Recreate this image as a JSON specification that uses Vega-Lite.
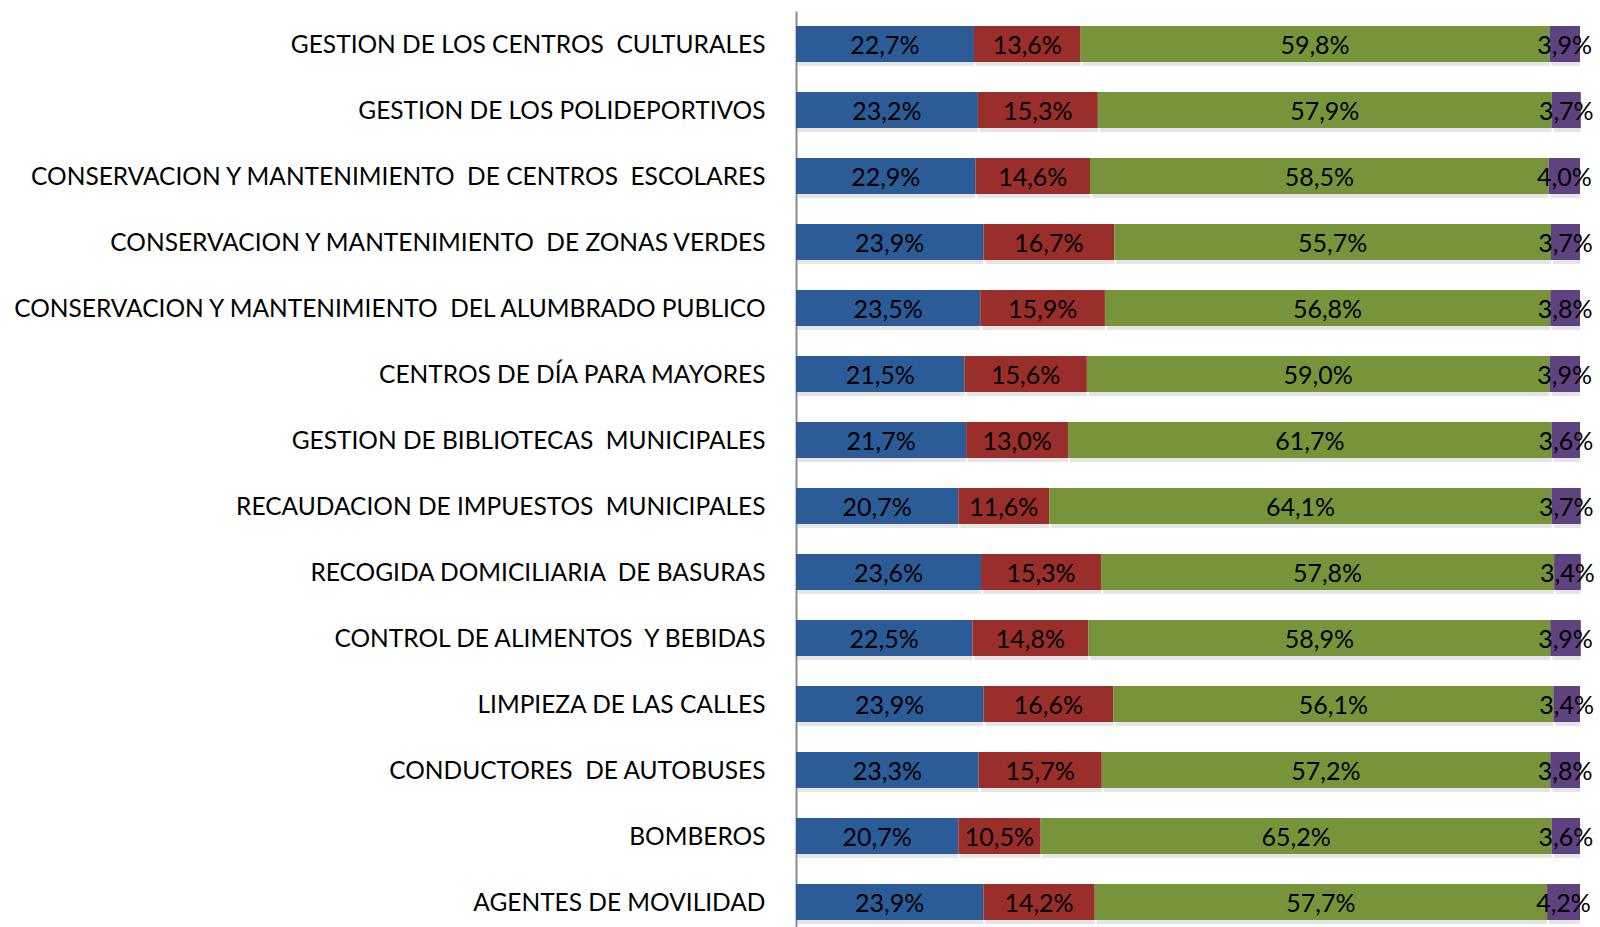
{
  "$schema": "https://vega.github.io/schema/vega-lite/v6.json",
  "width": 784,
  "height": 916,
  "padding": {"left": 796, "top": 11, "right": 20, "bottom": 0},
  "autosize": {"type": "none"},
  "background": "white",
  "config": {"view": {"stroke": null}, "font": "Lato"},
  "data": {"values": [
    {"cat": "GESTION DE LOS CENTROS  CULTURALES", "i": 1, "s": "A", "o": 1, "v": 22.7, "lab": "22,7%"},
    {"cat": "GESTION DE LOS CENTROS  CULTURALES", "i": 1, "s": "B", "o": 2, "v": 13.6, "lab": "13,6%"},
    {"cat": "GESTION DE LOS CENTROS  CULTURALES", "i": 1, "s": "C", "o": 3, "v": 59.8, "lab": "59,8%"},
    {"cat": "GESTION DE LOS CENTROS  CULTURALES", "i": 1, "s": "D", "o": 4, "v": 3.9, "lab": "3,9%"},
    {"cat": "GESTION DE LOS POLIDEPORTIVOS", "i": 2, "s": "A", "o": 1, "v": 23.2, "lab": "23,2%"},
    {"cat": "GESTION DE LOS POLIDEPORTIVOS", "i": 2, "s": "B", "o": 2, "v": 15.3, "lab": "15,3%"},
    {"cat": "GESTION DE LOS POLIDEPORTIVOS", "i": 2, "s": "C", "o": 3, "v": 57.9, "lab": "57,9%"},
    {"cat": "GESTION DE LOS POLIDEPORTIVOS", "i": 2, "s": "D", "o": 4, "v": 3.7, "lab": "3,7%"},
    {"cat": "CONSERVACION Y MANTENIMIENTO  DE CENTROS  ESCOLARES", "i": 3, "s": "A", "o": 1, "v": 22.9, "lab": "22,9%"},
    {"cat": "CONSERVACION Y MANTENIMIENTO  DE CENTROS  ESCOLARES", "i": 3, "s": "B", "o": 2, "v": 14.6, "lab": "14,6%"},
    {"cat": "CONSERVACION Y MANTENIMIENTO  DE CENTROS  ESCOLARES", "i": 3, "s": "C", "o": 3, "v": 58.5, "lab": "58,5%"},
    {"cat": "CONSERVACION Y MANTENIMIENTO  DE CENTROS  ESCOLARES", "i": 3, "s": "D", "o": 4, "v": 4.0, "lab": "4,0%"},
    {"cat": "CONSERVACION Y MANTENIMIENTO  DE ZONAS VERDES", "i": 4, "s": "A", "o": 1, "v": 23.9, "lab": "23,9%"},
    {"cat": "CONSERVACION Y MANTENIMIENTO  DE ZONAS VERDES", "i": 4, "s": "B", "o": 2, "v": 16.7, "lab": "16,7%"},
    {"cat": "CONSERVACION Y MANTENIMIENTO  DE ZONAS VERDES", "i": 4, "s": "C", "o": 3, "v": 55.7, "lab": "55,7%"},
    {"cat": "CONSERVACION Y MANTENIMIENTO  DE ZONAS VERDES", "i": 4, "s": "D", "o": 4, "v": 3.7, "lab": "3,7%"},
    {"cat": "CONSERVACION Y MANTENIMIENTO  DEL ALUMBRADO PUBLICO", "i": 5, "s": "A", "o": 1, "v": 23.5, "lab": "23,5%"},
    {"cat": "CONSERVACION Y MANTENIMIENTO  DEL ALUMBRADO PUBLICO", "i": 5, "s": "B", "o": 2, "v": 15.9, "lab": "15,9%"},
    {"cat": "CONSERVACION Y MANTENIMIENTO  DEL ALUMBRADO PUBLICO", "i": 5, "s": "C", "o": 3, "v": 56.8, "lab": "56,8%"},
    {"cat": "CONSERVACION Y MANTENIMIENTO  DEL ALUMBRADO PUBLICO", "i": 5, "s": "D", "o": 4, "v": 3.8, "lab": "3,8%"},
    {"cat": "CENTROS DE DÍA PARA MAYORES", "i": 6, "s": "A", "o": 1, "v": 21.5, "lab": "21,5%"},
    {"cat": "CENTROS DE DÍA PARA MAYORES", "i": 6, "s": "B", "o": 2, "v": 15.6, "lab": "15,6%"},
    {"cat": "CENTROS DE DÍA PARA MAYORES", "i": 6, "s": "C", "o": 3, "v": 59.0, "lab": "59,0%"},
    {"cat": "CENTROS DE DÍA PARA MAYORES", "i": 6, "s": "D", "o": 4, "v": 3.9, "lab": "3,9%"},
    {"cat": "GESTION DE BIBLIOTECAS  MUNICIPALES", "i": 7, "s": "A", "o": 1, "v": 21.7, "lab": "21,7%"},
    {"cat": "GESTION DE BIBLIOTECAS  MUNICIPALES", "i": 7, "s": "B", "o": 2, "v": 13.0, "lab": "13,0%"},
    {"cat": "GESTION DE BIBLIOTECAS  MUNICIPALES", "i": 7, "s": "C", "o": 3, "v": 61.7, "lab": "61,7%"},
    {"cat": "GESTION DE BIBLIOTECAS  MUNICIPALES", "i": 7, "s": "D", "o": 4, "v": 3.6, "lab": "3,6%"},
    {"cat": "RECAUDACION DE IMPUESTOS  MUNICIPALES", "i": 8, "s": "A", "o": 1, "v": 20.7, "lab": "20,7%"},
    {"cat": "RECAUDACION DE IMPUESTOS  MUNICIPALES", "i": 8, "s": "B", "o": 2, "v": 11.6, "lab": "11,6%"},
    {"cat": "RECAUDACION DE IMPUESTOS  MUNICIPALES", "i": 8, "s": "C", "o": 3, "v": 64.1, "lab": "64,1%"},
    {"cat": "RECAUDACION DE IMPUESTOS  MUNICIPALES", "i": 8, "s": "D", "o": 4, "v": 3.7, "lab": "3,7%"},
    {"cat": "RECOGIDA DOMICILIARIA  DE BASURAS", "i": 9, "s": "A", "o": 1, "v": 23.6, "lab": "23,6%"},
    {"cat": "RECOGIDA DOMICILIARIA  DE BASURAS", "i": 9, "s": "B", "o": 2, "v": 15.3, "lab": "15,3%"},
    {"cat": "RECOGIDA DOMICILIARIA  DE BASURAS", "i": 9, "s": "C", "o": 3, "v": 57.8, "lab": "57,8%"},
    {"cat": "RECOGIDA DOMICILIARIA  DE BASURAS", "i": 9, "s": "D", "o": 4, "v": 3.4, "lab": "3,4%"},
    {"cat": "CONTROL DE ALIMENTOS  Y BEBIDAS", "i": 10, "s": "A", "o": 1, "v": 22.5, "lab": "22,5%"},
    {"cat": "CONTROL DE ALIMENTOS  Y BEBIDAS", "i": 10, "s": "B", "o": 2, "v": 14.8, "lab": "14,8%"},
    {"cat": "CONTROL DE ALIMENTOS  Y BEBIDAS", "i": 10, "s": "C", "o": 3, "v": 58.9, "lab": "58,9%"},
    {"cat": "CONTROL DE ALIMENTOS  Y BEBIDAS", "i": 10, "s": "D", "o": 4, "v": 3.9, "lab": "3,9%"},
    {"cat": "LIMPIEZA DE LAS CALLES", "i": 11, "s": "A", "o": 1, "v": 23.9, "lab": "23,9%"},
    {"cat": "LIMPIEZA DE LAS CALLES", "i": 11, "s": "B", "o": 2, "v": 16.6, "lab": "16,6%"},
    {"cat": "LIMPIEZA DE LAS CALLES", "i": 11, "s": "C", "o": 3, "v": 56.1, "lab": "56,1%"},
    {"cat": "LIMPIEZA DE LAS CALLES", "i": 11, "s": "D", "o": 4, "v": 3.4, "lab": "3,4%"},
    {"cat": "CONDUCTORES  DE AUTOBUSES", "i": 12, "s": "A", "o": 1, "v": 23.3, "lab": "23,3%"},
    {"cat": "CONDUCTORES  DE AUTOBUSES", "i": 12, "s": "B", "o": 2, "v": 15.7, "lab": "15,7%"},
    {"cat": "CONDUCTORES  DE AUTOBUSES", "i": 12, "s": "C", "o": 3, "v": 57.2, "lab": "57,2%"},
    {"cat": "CONDUCTORES  DE AUTOBUSES", "i": 12, "s": "D", "o": 4, "v": 3.8, "lab": "3,8%"},
    {"cat": "BOMBEROS", "i": 13, "s": "A", "o": 1, "v": 20.7, "lab": "20,7%"},
    {"cat": "BOMBEROS", "i": 13, "s": "B", "o": 2, "v": 10.5, "lab": "10,5%"},
    {"cat": "BOMBEROS", "i": 13, "s": "C", "o": 3, "v": 65.2, "lab": "65,2%"},
    {"cat": "BOMBEROS", "i": 13, "s": "D", "o": 4, "v": 3.6, "lab": "3,6%"},
    {"cat": "AGENTES DE MOVILIDAD", "i": 14, "s": "A", "o": 1, "v": 23.9, "lab": "23,9%"},
    {"cat": "AGENTES DE MOVILIDAD", "i": 14, "s": "B", "o": 2, "v": 14.2, "lab": "14,2%"},
    {"cat": "AGENTES DE MOVILIDAD", "i": 14, "s": "C", "o": 3, "v": 57.7, "lab": "57,7%"},
    {"cat": "AGENTES DE MOVILIDAD", "i": 14, "s": "D", "o": 4, "v": 4.2, "lab": "4,2%"}
  ]},
  "transform": [
    {"stack": "v", "groupby": ["cat"], "sort": [{"field": "o", "order": "ascending"}], "as": ["v0", "v1"]},
    {"calculate": "(datum.v0 + datum.v1) / 2", "as": "mid"}
  ],
  "encoding": {
    "y": {
      "field": "cat", "type": "nominal",
      "sort": {"field": "i", "op": "min", "order": "ascending"},
      "scale": {"paddingInner": 0.4545, "paddingOuter": 0.1667, "align": 0.68},
      "axis": {
        "title": null, "ticks": false, "domainColor": "#8c8c8c", "domainWidth": 2,
        "labelFontSize": 24.5, "labelColor": "#000000", "labelPadding": 31, "labelLimit": 0,
        "labelFont": "Lato", "labelOffset": 2,
        "labelExpr": "replace(datum.label, /  /g, ' \u00a0')"
      }
    }
  },
  "layer": [
    {
      "mark": {"type": "bar", "color": "#000000", "opacity": 0.1, "yOffset": 4, "xOffset": 2},
      "encoding": {
        "x": {"field": "v0", "type": "quantitative", "scale": {"domain": [0, 100]}, "axis": null},
        "x2": {"field": "v1"}
      }
    },
    {
      "mark": {"type": "bar"},
      "encoding": {
        "x": {"field": "v0", "type": "quantitative", "scale": {"domain": [0, 100]}, "axis": null},
        "x2": {"field": "v1"},
        "color": {
          "field": "s", "type": "nominal", "legend": null,
          "scale": {"domain": ["A", "B", "C", "D"], "range": ["#2C5C97", "#9A2E2B", "#77943A", "#5F4380"]}
        }
      }
    },
    {
      "mark": {"type": "text", "fontSize": 25, "color": "#000000", "font": "Lato", "baseline": "middle", "dy": 2},
      "encoding": {
        "x": {"field": "mid", "type": "quantitative", "scale": {"domain": [0, 100]}, "axis": null},
        "text": {"field": "lab", "type": "nominal"}
      }
    }
  ]
}
